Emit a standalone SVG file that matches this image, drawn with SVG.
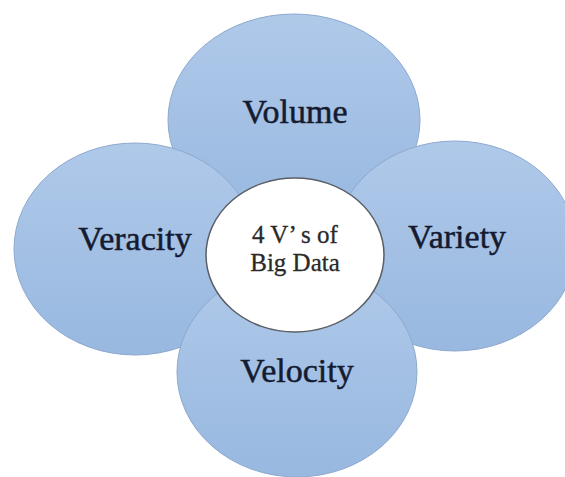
<svg xmlns="http://www.w3.org/2000/svg" width="565" height="477" viewBox="0 0 565 477">
  <defs>
    <linearGradient id="blue" x1="0" y1="0" x2="0" y2="1">
      <stop offset="0" stop-color="#afc9e9"/>
      <stop offset="1" stop-color="#98b8e0"/>
    </linearGradient>
  </defs>
  <style>
    .petal { fill: url(#blue); stroke: #8ea9cf; stroke-width: 1; }
    .hub { fill: #ffffff; stroke: #5a5f66; stroke-width: 1.5; }
    .label { font-family: "Liberation Serif", "Times New Roman", serif; font-size: 34px; fill: #141b30; stroke: #141b30; stroke-width: 0.5; text-anchor: middle; }
    .hubtext { font-family: "Liberation Serif", "Times New Roman", serif; font-size: 25px; fill: #2a2a2a; stroke: #2a2a2a; stroke-width: 0.3; text-anchor: middle; }
  </style>
  <rect width="565" height="477" fill="#ffffff"/>
  <g id="volume">
    <ellipse class="petal" cx="294" cy="120" rx="126" ry="106"/>
    <text class="label" x="295" y="123">Volume</text>
  </g>
  <g id="veracity">
    <ellipse class="petal" cx="135" cy="249" rx="121" ry="106"/>
    <text class="label" x="135" y="250">Veracity</text>
  </g>
  <g id="variety">
    <ellipse class="petal" cx="455" cy="246" rx="121" ry="105"/>
    <text class="label" x="457" y="248">Variety</text>
  </g>
  <g id="velocity">
    <ellipse class="petal" cx="297" cy="372" rx="120" ry="105"/>
    <text class="label" x="297" y="382">Velocity</text>
  </g>
  <g id="center">
    <ellipse class="hub" cx="295" cy="255" rx="89" ry="77"/>
    <text class="hubtext" x="295" y="243">4 V’ s of</text>
    <text class="hubtext" x="295" y="271">Big Data</text>
  </g>
</svg>
